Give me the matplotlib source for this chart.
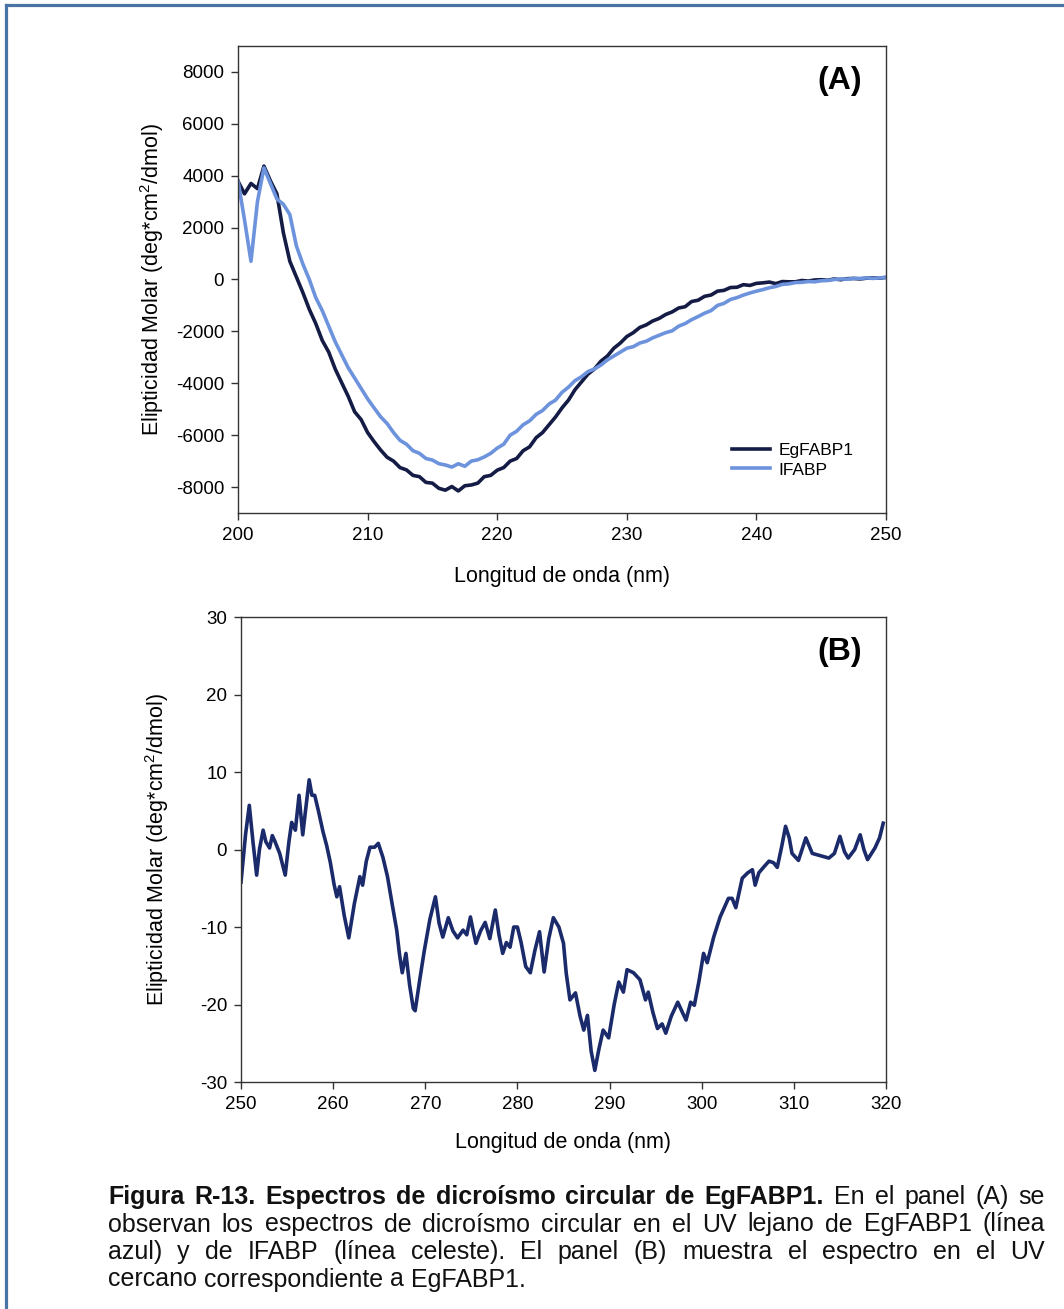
import numpy as np
import matplotlib
matplotlib.use('Agg')
import matplotlib.pyplot as plt
from matplotlib.lines import Line2D

plt.rcParams['font.family'] = ['Liberation Sans', 'DejaVu Sans']
plt.rcParams['mathtext.default'] = 'regular'
plt.rcParams['axes.unicode_minus'] = False

# --- far UV (panel A), 0.5 nm steps ---
wl_far = np.arange(200, 250.01, 0.5)
egfabp1_far = [3790, 3300, 3700, 3500, 4370, 3800, 3300, 1800, 700, 100,
               -500, -1150, -1700, -2350, -2800, -3450, -3980, -4500, -5100, -5400,
               -5900, -6250, -6570, -6850, -7000, -7250, -7340, -7550, -7600, -7820,
               -7850, -8050, -8120, -7980, -8150, -7950, -7920, -7850, -7600, -7550,
               -7350, -7250, -7000, -6900, -6600, -6450, -6100, -5900, -5600, -5300,
               -4950, -4650, -4250, -3950, -3650, -3450, -3150, -2950, -2650, -2450,
               -2200, -2050, -1850, -1750, -1600, -1500, -1350, -1250, -1100, -1050,
               -850, -800, -650, -600, -450, -420, -310, -300, -200, -230,
               -150, -130, -100, -160, -80, -90, -90, -40, -60, -20,
               -10, -30, 20, -10, 30, 40, 20, 50, 60, 50, 80]
ifabp_far = [3800, 2300, 700, 3000, 4300, 3700, 3100, 2900, 2500, 1300,
             600, 0, -700, -1200, -1800, -2400, -2900, -3400, -3800, -4200,
             -4600, -4950, -5290, -5550, -5900, -6200, -6350, -6600, -6700, -6900,
             -6960, -7100, -7150, -7230, -7100, -7200, -7000, -6950, -6840, -6700,
             -6500, -6350, -6000, -5850, -5600, -5450, -5200, -5050, -4800, -4650,
             -4350, -4150, -3900, -3750, -3550, -3450, -3300, -3100, -2950, -2800,
             -2650, -2590, -2450, -2380, -2250, -2150, -2050, -1980, -1800, -1700,
             -1550, -1430, -1300, -1200, -1000, -920, -770, -700, -600, -520,
             -450, -390, -320, -270, -190, -170, -120, -110, -80, -90,
             -50, -40, 0, 20, 10, 40, 40, 60, 40, 60, 80]

# --- near UV (panel B) ---
wl_near = [250.0, 250.5, 250.9, 251.3, 251.7, 252.0, 252.4, 252.7, 253.1, 253.4,
           253.7, 254.2, 254.8, 255.2, 255.5, 255.9, 256.3, 256.7, 257.0, 257.4,
           257.7, 258.0, 258.4, 258.9, 259.3, 259.7, 260.1, 260.4, 260.7, 261.2,
           261.7, 262.3, 262.9, 263.2, 263.6, 264.0, 264.5, 264.9, 265.4, 265.9,
           266.4, 266.9, 267.2, 267.5, 267.9, 268.3, 268.7, 268.9, 269.4, 269.9,
           270.5, 271.1, 271.5, 271.9, 272.5, 273.0, 273.5, 274.1, 274.5, 274.9,
           275.2, 275.5, 276.0, 276.5, 277.0, 277.6, 278.0, 278.4, 278.8, 279.2,
           279.6, 280.0, 280.4, 280.9, 281.4, 281.9, 282.4, 282.9, 283.4, 283.9,
           284.5, 285.0, 285.3, 285.7, 286.3, 286.8, 287.2, 287.6, 288.0, 288.4,
           288.8, 289.3, 289.9, 290.5, 291.0, 291.5, 291.9, 292.6, 293.3, 293.9,
           294.2, 294.7, 295.2, 295.7, 296.1, 296.7, 297.4, 297.9, 298.3, 298.8,
           299.2, 299.7, 300.2, 300.6, 301.3, 302.0, 302.9, 303.3, 303.7, 304.4,
           305.0, 305.5, 305.8, 306.2, 306.7, 307.3, 307.8, 308.2, 308.7, 309.1,
           309.5, 309.8, 310.5, 311.3, 312.0, 312.9, 313.8, 314.4, 315.0, 315.5,
           315.9, 316.6, 317.2, 317.6, 318.0, 318.8, 319.3, 319.7]
egfabp1_near = [-4.2, 2.0, 5.7, 1.0, -3.3, 0.0, 2.5, 1.0, 0.2, 1.8,
                1.0, -0.5, -3.3, 1.0, 3.5, 2.5, 7.0, 1.9, 5.0, 9.0,
                7.0, 7.0, 5.0, 2.3, 0.5, -1.7, -4.5, -6.1, -4.8, -8.5,
                -11.4, -7.0, -3.5, -4.6, -1.5, 0.3, 0.3, 0.8, -1.0, -3.5,
                -7.0, -10.4, -13.5, -15.9, -13.4, -17.5, -20.5, -20.8, -16.8, -13.0,
                -9.0, -6.1, -9.5, -11.3, -8.8, -10.5, -11.4, -10.4, -11.0, -8.7,
                -10.5, -12.1, -10.5, -9.4, -11.5, -7.8, -11.0, -13.4, -12.0, -12.6,
                -10.0, -10.0, -12.0, -15.1, -15.9, -13.0, -10.6, -15.8, -11.5, -8.8,
                -10.0, -12.1, -16.0, -19.4, -18.5, -21.5, -23.3, -21.4, -26.0, -28.5,
                -26.0, -23.3, -24.3, -20.0, -17.1, -18.4, -15.5, -15.9, -16.8, -19.4,
                -18.4, -21.0, -23.1, -22.5, -23.7, -21.5, -19.7, -21.0, -22.0, -19.7,
                -20.1, -17.0, -13.4, -14.6, -11.3, -8.7, -6.3, -6.3, -7.5, -3.7,
                -3.0, -2.6, -4.6, -3.0, -2.3, -1.5, -1.7, -2.3, 0.5, 3.0,
                1.5, -0.5, -1.4, 1.5, -0.5, -0.8, -1.1, -0.5, 1.7, -0.3,
                -1.1, 0.0, 1.9, 0.0, -1.3, 0.2, 1.5, 3.4]

far_ticks = [-8000, -6000, -4000, -2000, 0, 2000, 4000, 6000, 8000]
near_ticks = [-30, -20, -10, 0, 10, 20, 30]

dark = '#141c45'
light = '#6d93dd'
navy = '#1a2a6a'
ylab = 'Elipticidad Molar (deg*cm$^2$/dmol)'
xlab = 'Longitud de onda (nm)'

fig = plt.figure(figsize=(10.64, 13.09), dpi=100)
ax1 = fig.add_axes([0.2237, 0.6081, 0.609, 0.3568])
ax2 = fig.add_axes([0.2265, 0.1734, 0.6062, 0.3552])

ax1.plot(wl_far, egfabp1_far, color=dark, lw=2.6, label='EgFABP1')
ax1.plot(wl_far, ifabp_far, color=light, lw=2.6, label='IFABP')
ax1.set_xlim(200, 250)
ax1.set_ylim(-9000, 9000)
ax1.set_yticks(far_ticks)
ax1.set_xticks(range(200, 251, 10))
ax1.legend(loc='center left', bbox_to_anchor=(0.762, 0.113), frameon=False,
           fontsize=12.5, handlelength=2.2, handletextpad=0.5,
           labelspacing=0.25, borderpad=0, borderaxespad=0)
ax1.text(0.963, 0.925, '(A)', transform=ax1.transAxes, ha='right', va='center',
         fontsize=23, fontweight='bold')

ax2.plot(wl_near, egfabp1_near, color=navy, lw=2.6)
ax2.set_xlim(250, 320)
ax2.set_ylim(-30, 30)
ax2.set_yticks(near_ticks)
ax2.set_xticks(range(250, 321, 10))
ax2.text(0.963, 0.925, '(B)', transform=ax2.transAxes, ha='right', va='center',
         fontsize=23, fontweight='bold')

for ax, ylx, xly in ((ax1, -0.133, -0.137), (ax2, -0.130, -0.131)):
    for sp in ax.spines.values():
        sp.set_color('#333333')
        sp.set_linewidth(1.0)
    ax.tick_params(direction='out', length=5, width=1, color='#333333',
                   labelsize=13.5, pad=5)
    ax.set_xlabel(xlab, fontsize=15.5, va='center')
    ax.set_ylabel(ylab, fontsize=15.5, va='center')
    ax.xaxis.set_label_coords(0.5, xly)
    ax.yaxis.set_label_coords(ylx, 0.5)

# frame around the figure (top and left edges)
edge = '#4a74a5'
fig.add_artist(Line2D([0.0056, 1.0], [0.9958, 0.9958], transform=fig.transFigure,
                      color=edge, lw=2.3))
fig.add_artist(Line2D([0.0056, 0.0056], [0.0, 0.9958], transform=fig.transFigure,
                      color=edge, lw=2.3))

# caption, justified word by word
W, H = fig.get_size_inches() * fig.dpi
renderer = fig.canvas.get_renderer()
cap_size = 18


def text_width(s, weight='normal'):
    t = fig.text(0, 0, s, fontsize=cap_size, fontweight=weight)
    w = t.get_window_extent(renderer).width
    t.remove()
    return w


space = text_width('a a') - text_width('aa')
caption = [
    ([('Figura R-13. Espectros de dicroísmo circular de EgFABP1.', 'bold'),
      ('En el panel (A) se', 'normal')], True),
    ([('observan los espectros de dicroísmo circular en el UV lejano de EgFABP1 (línea', 'normal')], True),
    ([('azul) y de IFABP (línea celeste). El panel (B) muestra el espectro en el UV', 'normal')], True),
    ([('cercano correspondiente a EgFABP1.', 'normal')], False),
]
x0, x1 = 108, 1045
y_base = 1204
for i, (parts, justify) in enumerate(caption):
    words = [(w, wt) for s, wt in parts for w in s.split()]
    widths = [text_width(w, wt) for w, wt in words]
    gap = (x1 - x0 - sum(widths)) / (len(words) - 1) if justify else space
    x = x0
    y = 1 - (y_base + i * 27.5) / H
    for (w, wt), wd in zip(words, widths):
        fig.text(x / W, y, w, fontsize=cap_size, fontweight=wt, va='baseline',
                 ha='left', color='#111111')
        x += wd + gap

fig.savefig('out.png', dpi=100)
